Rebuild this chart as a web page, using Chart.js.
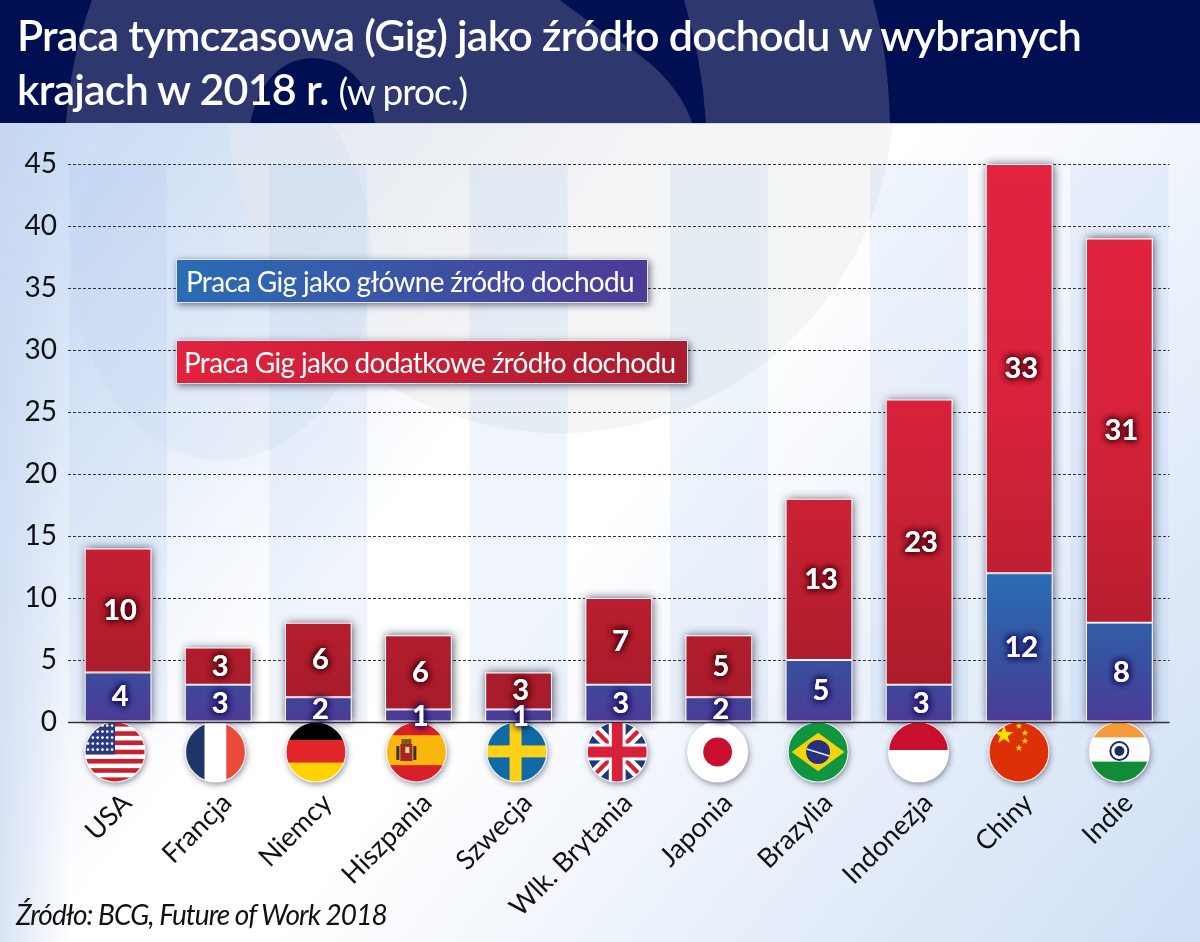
<!DOCTYPE html>
<html lang="pl"><head><meta charset="utf-8">
<script src="https://cdn.jsdelivr.net/npm/chart.js@4/dist/chart.umd.min.js"></script>
<style>
html,body{margin:0;padding:0;width:1200px;height:942px;overflow:hidden;background:#fff}
#c{position:absolute;left:0;top:0}
.t{position:absolute;white-space:nowrap;font-family:Lato}
#t1,#t2{color:#fff;font-weight:600;font-size:43px;letter-spacing:-.8px;left:17px;line-height:48px}
#t1{top:11px}#t2{top:65px}
#t2 span{font-size:37px;font-weight:400;letter-spacing:-1px}
#src{left:16px;top:897px;font-size:28px;font-style:italic;color:#111;letter-spacing:-.95px}
.lg{position:absolute;left:176px;height:44px;line-height:42px;color:#fff;font-family:Lato;font-size:28px;letter-spacing:-.68px;box-sizing:border-box;border:1px solid #dfe6f2;box-shadow:2px 2px 7px rgba(30,30,60,.6);white-space:nowrap}
#l1{top:259px;width:472px;padding-left:9px;background:linear-gradient(90deg,#2a6db5,#4d3a96)}
#l2{top:340px;width:512px;padding-left:7px;background:linear-gradient(90deg,#e3223f,#a81c2b)}
</style></head><body>
<canvas id="c" width="1200" height="942" style="width:1200px;height:942px"></canvas>
<div class="t" id="t1">Praca tymczasowa (Gig) jako źródło dochodu w wybranych</div>
<div class="t" id="t2">krajach w 2018 r. <span>(w proc.)</span></div>
<div class="lg" id="l1">Praca Gig jako główne źródło dochodu</div>
<div class="lg" id="l2">Praca Gig jako dodatkowe źródło dochodu</div>
<div class="t" id="src">Źródło: BCG, Future of Work 2018</div>
<script>
const categories=["USA","Francja","Niemcy","Hiszpania","Szwecja","Wlk. Brytania","Japonia","Brazylia","Indonezja","Chiny","Indie"];
const mainIncome=[4,3,2,1,1,3,2,5,3,12,8];
const extraIncome=[10,3,6,6,3,7,5,13,23,33,31];
const seriesNames=["Praca Gig jako główne źródło dochodu","Praca Gig jako dodatkowe źródło dochodu"];
const flagCodes=["us","fr","de","es","se","gb","jp","br","id","cn","in"];

function axisPaint(ctx,stops,fallback,hiVal){
 const s=ctx.chart.scales.y;
 if(!s||!isFinite(s.getPixelForValue(hiVal))||!isFinite(s.getPixelForValue(0)))return fallback;
 const g=ctx.chart.ctx.createLinearGradient(0,s.getPixelForValue(hiVal),0,s.getPixelForValue(0));
 stops.forEach(([o,col])=>g.addColorStop(o,col));return g;
}
const bluePaint=ctx=>axisPaint(ctx,[[0,'#2a6db5'],[.58,'#38519f'],[1,'#4d3a96']],'#3b4d9f',12);
const redPaint=ctx=>axisPaint(ctx,[[0,'#e3233f'],[.42,'#d8223b'],[.69,'#c42033'],[.93,'#aa1c2b'],[1,'#a81c2b']],'#b01f2e',45);

const bgPlugin={id:'bg',beforeDraw(ch){
 const c=ch.ctx,a=ch.chartArea,x=ch.scales.x;c.save();
 const g=c.createLinearGradient(0,123,1126,1018);g.addColorStop(0,'#c5d8f4');g.addColorStop(.38,'#ffffff');g.addColorStop(.5,'#ffffff');g.addColorStop(1,'#cfdff5');
 c.fillStyle=g;c.fillRect(0,0,1200,942);
 const g3=c.createLinearGradient(0,0,70,0);g3.addColorStop(0,'rgba(200,215,240,.65)');g3.addColorStop(1,'rgba(200,215,240,0)');c.fillStyle=g3;c.fillRect(0,123,70,819);
 c.save();c.beginPath();c.rect(0,123,1200,819);c.clip();
 c.fillStyle='rgba(235,236,238,.55)';c.beginPath();c.arc(560,100,333,0,7);c.fill();
 c.fillStyle='rgba(200,215,240,.2)';c.beginPath();c.ellipse(222,260,150,200,0,0,7);c.fill();
 c.restore();
 for(let i=0;i<categories.length;i+=2){const cx=x.getPixelForValue(i);c.fillStyle='rgba(150,185,235,.14)';c.fillRect(cx-49,a.top,98,a.bottom-a.top);}
 c.fillStyle='#000f52';c.fillRect(0,0,1200,123);
 c.save();c.beginPath();c.rect(0,0,1200,123);c.clip();
 c.fillStyle='#2e376e';
 c.beginPath();c.moveTo(92,0);c.quadraticCurveTo(70,60,66,123);c.lineTo(250,123);c.quadraticCurveTo(265,60,312,58);c.quadraticCurveTo(365,60,375,123);c.lineTo(692,123);c.quadraticCurveTo(675,70,600,30);c.lineTo(560,0);c.closePath();c.fill();
 c.beginPath();c.moveTo(684,0);c.quadraticCurveTo(702,60,706,123);c.lineTo(890,123);c.quadraticCurveTo(888,50,873,0);c.closePath();c.fill();
 c.restore();
 c.fillStyle='#cfd9ea';c.fillRect(0,123,1200,1);
 c.restore();
}};
function drawFlag(c,code,cx,cy,r){
 const L=cx-r,T=cy-r,D=2*r;
 const h=(col,f0,f1)=>{c.fillStyle=col;c.fillRect(L,T+D*f0,D,D*(f1-f0));};
 const v=(col,f0,f1)=>{c.fillStyle=col;c.fillRect(L+D*f0,T,D*(f1-f0),D);};
 const star=(x,y,R,col)=>{c.fillStyle=col;c.beginPath();for(let i=0;i<10;i++){const q=i%2?R*.4:R;const an=-Math.PI/2+i*Math.PI/5;c.lineTo(x+q*Math.cos(an),y+q*Math.sin(an));}c.closePath();c.fill();};
 c.save();c.beginPath();c.arc(cx,cy,r,0,Math.PI*2);c.clip();
 if(code==='us'){h('#fff',0,1);for(let i=0;i<7;i++)h('#c8202f',i*2/13,(i*2+1)/13);c.fillStyle='#2b3a85';c.fillRect(L,T,D*.5,D*.54);for(let j=0;j<5;j++)for(let i=0;i<6;i++){c.fillStyle='#fff';c.beginPath();c.arc(L+D*.05+i*D*.08,T+D*.06+j*D*.1,1.3,0,7);c.fill();}}
 if(code==='fr'){v('#1f3566',0,.32);v('#fff',.32,.68);v('#ec4a38',.68,1);}
 if(code==='de'){h('#000',0,.3);h('#e3262a',.3,.68);h('#ffd200',.68,1);}
 if(code==='es'){h('#d7202a',0,1);h('#fbb60e',.22,.72);c.fillStyle='#a8241f';c.fillRect(cx-16,cy-8,12,17);c.fillStyle='#333';c.fillRect(cx-20,cy-6,3,14);c.fillRect(cx-3,cy-6,3,14);c.fillStyle='#7a5a10';c.fillRect(cx-15,cy-13,10,5);c.fillStyle='#e8d8a0';c.fillRect(cx-11,cy-5,4,6);}
 if(code==='se'){h('#0f6aa5',0,1);h('#fcd116',.39,.59);v('#fcd116',.38,.58);}
 if(code==='gb'){h('#1f3a7a',0,1);c.lineCap='butt';c.strokeStyle='#fff';c.lineWidth=D*.2;c.beginPath();c.moveTo(L,T);c.lineTo(L+D,T+D);c.moveTo(L+D,T);c.lineTo(L,T+D);c.stroke();c.strokeStyle='#d9203a';c.lineWidth=D*.07;c.stroke();h('#fff',.36,.64);v('#fff',.36,.64);h('#d9203a',.41,.59);v('#d9203a',.41,.59);}
 if(code==='jp'){h('#fff',0,1);c.fillStyle='#c8102e';c.beginPath();c.arc(cx,cy,D*.24,0,7);c.fill();}
 if(code==='br'){h('#0f9640',0,1);c.fillStyle='#f8d20a';c.beginPath();c.moveTo(L+D*.06,cy);c.lineTo(cx,T+D*.18);c.lineTo(L+D*.94,cy);c.lineTo(cx,T+D*.82);c.closePath();c.fill();c.fillStyle='#27307e';c.beginPath();c.arc(cx,cy,D*.2,0,7);c.fill();c.strokeStyle='#e6efe6';c.lineWidth=1.5;c.beginPath();c.moveTo(cx-D*.19,cy-3);c.lineTo(cx+D*.19,cy+4);c.stroke();}
 if(code==='id'){h('#c8102e',0,.47);h('#fff',.47,1);}
 if(code==='cn'){h('#de3006',0,1);star(cx-15,cy-17,10,'#ffde00');star(cx,cy-26,3.5,'#ffde00');star(cx+6,cy-19,3.5,'#ffde00');star(cx+6,cy-11,3.5,'#ffde00');star(cx,cy-4,3.5,'#ffde00');}
 if(code==='in'){h('#f39a3b',0,.26);h('#fff',.26,.66);h('#138a36',.66,1);c.strokeStyle='#1b2a6b';c.lineWidth=2;c.beginPath();c.arc(cx,cy-1,9,0,7);c.stroke();c.fillStyle='#1b2a6b';c.beginPath();c.arc(cx,cy-1,5,0,7);c.fill();}
 c.restore();
 c.strokeStyle='rgba(255,255,255,.85)';c.lineWidth=1.2;c.beginPath();c.arc(cx,cy,r,0,Math.PI*2);c.stroke();
}
const flagPlugin={id:'flags',
 beforeDatasetsDraw(ch){
  const c=ch.ctx;c.save();c.shadowColor='rgba(25,25,55,.75)';c.shadowBlur=9;c.shadowOffsetX=1;c.shadowOffsetY=0;c.fillStyle='#fff';
  ch.data.datasets.forEach((ds,di)=>ch.getDatasetMeta(di).data.forEach(el=>{const p=el.getProps(['x','y','base','width'],true);c.fillRect(p.x-p.width/2,p.y,p.width,p.base-p.y);}));
  c.restore();
 },
 afterDatasetsDraw(ch){
 const c=ch.ctx,x=ch.scales.x;const y0=ch.chartArea.bottom;
 c.save();
 flagCodes.forEach((code,i)=>{const cx=x.getPixelForValue(i)-3+i*.3;
  c.save();c.shadowColor='rgba(30,30,60,.55)';c.shadowBlur=6;c.shadowOffsetX=1;c.shadowOffsetY=2;c.fillStyle='#fff';c.beginPath();c.arc(cx,y0+30,30,0,Math.PI*2);c.fill();c.restore();
  drawFlag(c,code,cx,y0+30,30);});
 c.strokeStyle='#333';c.lineWidth=1.5;c.beginPath();c.moveTo(ch.chartArea.left,y0+.5);c.lineTo(ch.chartArea.right,y0+.5);c.stroke();
 c.textAlign='center';c.textBaseline='middle';c.font='700 29px Lato';
 ch.data.datasets.forEach((ds,di)=>{ch.getDatasetMeta(di).data.forEach((el,i)=>{
  const p=el.getProps(['x','y','base'],true);const my=(p.y+p.base)/2;
  c.save();c.shadowColor=di?'rgba(70,0,10,1)':'rgba(20,10,90,1)';c.shadowBlur=7;c.fillStyle='#fff';
  const ty=my+(ds.data[i]===1?1:0);
  for(let k=0;k<3;k++)c.fillText(String(ds.data[i]),p.x+2,ty);c.restore();
 });});
 c.restore();
}};

new Chart(document.getElementById('c'),{type:'bar',
 data:{labels:categories,datasets:[
  {label:seriesNames[0],data:mainIncome,backgroundColor:bluePaint,borderColor:'rgba(255,255,255,.85)',borderWidth:1,borderSkipped:false,categoryPercentage:.667,barPercentage:1,clip:false},
  {label:seriesNames[1],data:extraIncome,backgroundColor:redPaint,borderColor:'rgba(255,255,255,.8)',borderWidth:1,borderSkipped:false,categoryPercentage:.667,barPercentage:1,clip:false}]},
 plugins:[bgPlugin,flagPlugin],
 options:{responsive:false,animation:false,devicePixelRatio:1,
  layout:{padding:{left:0,right:16,top:164,bottom:0}},
  plugins:{legend:{display:false},tooltip:{enabled:false}},
  scales:{
   x:{stacked:true,grid:{display:false},border:{display:false},
      ticks:{autoSkip:false,minRotation:45,maxRotation:45,padding:57,labelOffset:9,color:'#111',font:{family:'Lato',size:27}},
      afterFit(s){s.height=220;}},
   y:{stacked:true,min:0,max:45,
      grid:{color:'#333',lineWidth:1,drawTicks:false},border:{display:false,dash:[3,2]},
      ticks:{stepSize:5,padding:11,color:'#111',font:{family:'Lato',size:28}},
      afterFit(s){s.width=68;}}
  }}});
</script></body></html>
